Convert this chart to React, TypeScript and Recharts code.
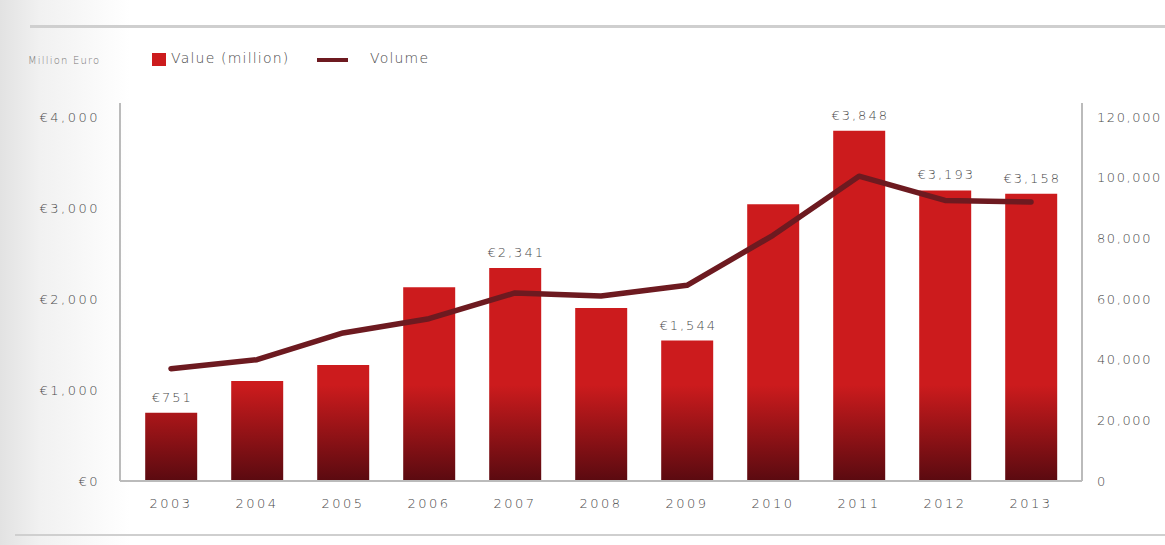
import React from "react";
import { ComposedChart, Bar, Line, XAxis, YAxis, Legend, LabelList } from "recharts";

const years = ["2003", "2004", "2005", "2006", "2007", "2008", "2009", "2010", "2011", "2012", "2013"];
const valueMillion = [751, 1100, 1275, 2130, 2341, 1900, 1544, 3040, 3848, 3193, 3158];
const volume = [37000, 40000, 48800, 53500, 62000, 61000, 64500, 81000, 100500, 92500, 92000];
const shownLabels = ["€751", "", "", "", "€2,341", "", "€1,544", "", "€3,848", "€3,193", "€3,158"];
const leftTicks = [0, 1000, 2000, 3000, 4000];
const rightTicks = [0, 20000, 40000, 60000, 80000, 100000, 120000];

const data = years.map((y, i) => ({
  year: y,
  value: valueMillion[i],
  volume: volume[i],
  label: shownLabels[i],
}));

const FONT = "'DejaVu Sans', sans-serif";
const BAR_RED = "#cc1b1d";
const LINE_COLOR = "#6d1a20";
const TEXT = "#4a4a4a";
const tickStyle = { fontSize: 13, fill: TEXT, fontFamily: FONT, fontWeight: 300, letterSpacing: 2.5 };

const LegendContent = () => (
  <div style={{ height: 63, position: "relative", fontFamily: FONT, fontWeight: 300, whiteSpace: "nowrap" }}>
    <span style={{ position: "absolute", left: 28, top: 15, fontSize: 10, color: "#777", letterSpacing: 1.2 }}>Million Euro</span>
    <span style={{ position: "absolute", left: 152, top: 13, width: 14, height: 13, background: BAR_RED }} />
    <span style={{ position: "absolute", left: 171, top: 10, fontSize: 14, color: TEXT, letterSpacing: 1.2 }}>Value (million)</span>
    <span style={{ position: "absolute", left: 317, top: 18, width: 31, height: 4, background: LINE_COLOR }} />
    <span style={{ position: "absolute", left: 370, top: 10, fontSize: 14, color: TEXT, letterSpacing: 1.2 }}>Volume</span>
  </div>
);

const renderBarLabel = (props: any) => {
  const { x, y, width, value } = props;
  if (!value) return null;
  return (
    <text
      x={x + width / 2 + 1}
      y={y - 11}
      textAnchor="middle"
      fontSize={13}
      fill={TEXT}
      fontFamily={FONT}
      fontWeight={300}
      letterSpacing={2}
    >
      {value}
    </text>
  );
};

export default function App() {
  return (
    <div
      style={{
        position: "absolute",
        left: 0,
        top: 0,
        width: 1165,
        height: 545,
        background: "linear-gradient(to right, #e2e2e2 0px, #f1f1f1 40px, #ffffff 130px)",
        overflow: "hidden",
      }}
    >
      <div style={{ position: "absolute", left: 30, top: 25, right: 0, height: 3, background: "#cfcfcf" }} />
      <div style={{ position: "absolute", left: 15, top: 534, right: 0, height: 2, background: "#cfcfcf" }} />
      <div style={{ position: "absolute", left: 0, top: 0 }}>
        <ComposedChart
          width={1165}
          height={545}
          data={data}
          margin={{ top: 40, right: 0, bottom: 0, left: 0 }}
          barCategoryGap="20%"
        >
          <defs>
            <linearGradient id="barGrad" gradientUnits="userSpaceOnUse" x1="0" y1="385" x2="0" y2="481">
              <stop offset="0" stopColor={BAR_RED} />
              <stop offset="1" stopColor="#5a0a10" />
            </linearGradient>
          </defs>
          <Legend verticalAlign="top" align="left" content={() => <LegendContent />} />
          <XAxis
            dataKey="year"
            height={64}
            tickLine={false}
            axisLine={{ stroke: "#bbbbbb", strokeWidth: 2 }}
            tick={tickStyle}
            tickMargin={12}
            padding={{ left: 8, right: 8 }}
          />
          <YAxis
            yAxisId="left"
            width={120}
            domain={[0, 4154]}
            ticks={leftTicks}
            tickLine={false}
            axisLine={{ stroke: "#bbbbbb", strokeWidth: 2 }}
            tick={tickStyle}
            tickMargin={14}
            tickFormatter={(v: number) => "€" + v.toLocaleString("en-US")}
            allowDataOverflow
          />
          <YAxis
            yAxisId="right"
            orientation="right"
            width={83}
            domain={[0, 124615]}
            ticks={rightTicks}
            tickLine={false}
            axisLine={{ stroke: "#bbbbbb", strokeWidth: 2 }}
            tick={{ ...tickStyle, letterSpacing: 1.6, textAnchor: "start" }}
            tickMargin={9}
            tickFormatter={(v: number) => v.toLocaleString("en-US")}
            allowDataOverflow
          />
          <Bar yAxisId="left" dataKey="value" fill="url(#barGrad)" isAnimationActive={false}>
            <LabelList dataKey="label" content={renderBarLabel} />
          </Bar>
          <Line
            yAxisId="right"
            dataKey="volume"
            stroke={LINE_COLOR}
            strokeWidth={5.5}
            dot={false}
            activeDot={false}
            type="linear"
            strokeLinejoin="round"
            strokeLinecap="round"
            isAnimationActive={false}
          />
        </ComposedChart>
      </div>
    </div>
  );
}
